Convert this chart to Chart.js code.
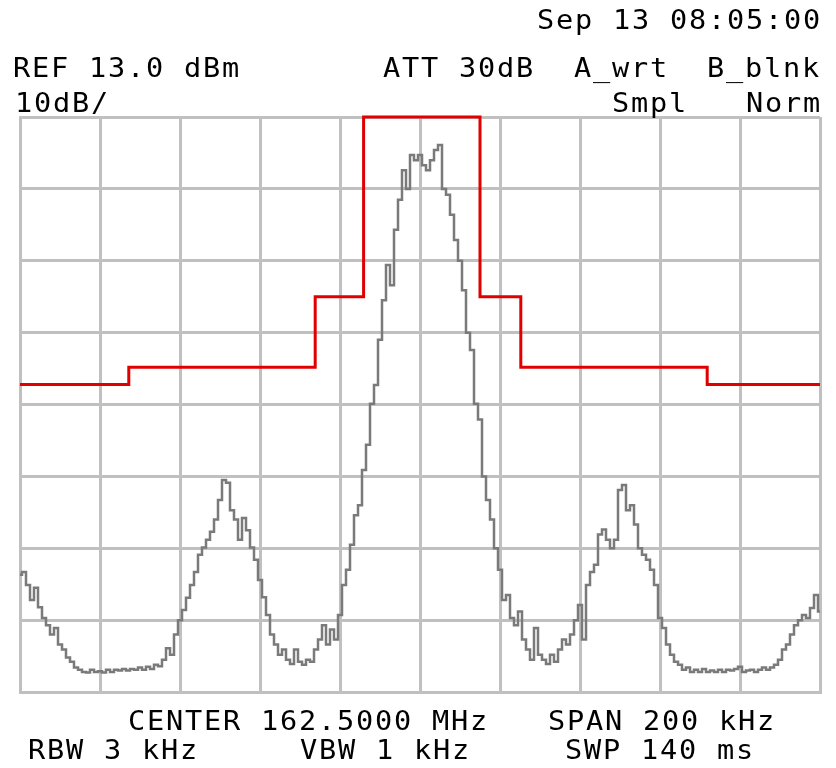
<!DOCTYPE html>
<html>
<head>
<meta charset="utf-8">
<title>Spectrum mask</title>
<script src="https://cdn.jsdelivr.net/npm/chart.js@4.4.1/dist/chart.umd.min.js"></script>
<style>
  html, body { margin: 0; padding: 0; background: #fff; }
  canvas { display: block; }
</style>
</head>
<body>
<canvas id="spectrum" width="836" height="768"></canvas>
<script>
// Sweep: 162.5 MHz centre, 200 kHz span, 1 kHz per point (offsets in kHz)
const sweepStart = -100;
const sweepPoints = 201;
const freqOffsets = Array.from({ length: sweepPoints }, (_, i) => sweepStart + i);

// Trace A, dBm
const traceA = [
  -50.7, -50.3, -52.1, -54.2, -52.5, -55.2, -56.7, -57.7, -59.0, -58.1,
  -60.4, -61.1, -62.2, -62.8, -63.6, -63.9, -64.2, -64.3, -63.9, -64.2,
  -64.1, -64.3, -63.9, -64.2, -63.9, -64.0, -63.8, -64.0, -63.8, -63.9,
  -63.6, -63.9, -63.5, -63.8, -63.2, -63.4, -62.5, -60.9, -61.8, -59.0,
  -57.0, -55.6, -53.9, -52.1, -50.3, -47.9, -46.9, -45.8, -44.7, -43.0,
  -40.3, -37.5, -37.9, -41.7, -43.0, -45.8, -42.8, -44.5, -46.9, -48.6,
  -51.4, -53.8, -56.3, -59.0, -60.4, -61.8, -61.1, -62.5, -63.1, -61.1,
  -62.8, -63.2, -62.5, -62.8, -61.1, -59.7, -57.7, -60.4, -58.3, -59.7,
  -56.3, -52.1, -50.0, -46.5, -42.4, -41.0, -36.1, -32.6, -26.9, -24.3,
  -18.0, -12.5, -7.6, -10.4, -2.7, 1.5, 5.6, 3.0, 7.7, 7.0,
  7.7, 6.3, 5.6, 7.0, 8.4, 9.1, 3.0, 2.2, -0.6, -4.1,
  -7.0, -11.1, -17.0, -19.4, -26.9, -29.1, -37.0, -40.3, -43.0, -47.0,
  -50.0, -54.2, -53.5, -56.7, -57.7, -55.8, -59.7, -61.1, -62.5, -58.1,
  -61.8, -62.5, -63.1, -61.8, -62.8, -61.1, -59.7, -60.4, -59.0, -57.0,
  -54.9, -59.7, -52.1, -50.3, -49.3, -45.1, -44.4, -45.8, -47.0, -45.8,
  -38.9, -38.2, -41.7, -41.0, -43.7, -47.0, -47.9, -48.6, -50.0, -52.1,
  -56.7, -58.1, -60.4, -61.8, -62.8, -63.2, -63.9, -63.6, -64.2, -63.9,
  -64.2, -63.8, -64.2, -64.0, -64.2, -63.9, -64.2, -63.9, -64.0, -63.8,
  -63.5, -64.2, -64.0, -63.9, -64.2, -63.9, -63.6, -63.9, -63.6, -63.2,
  -62.5, -61.1, -60.4, -59.0, -57.7, -57.0, -56.3, -56.7, -55.3, -53.5,
  -55.8
];

// Emission mask: segment edges (kHz) and limit level of each segment (dBm)
const maskEdges = [-100, -72.8, -26.2, -14.1, 15.0, 25.2, 71.8, 100];
const maskLevels = [-24.2, -21.8, -12.0, 13.0, -12.0, -21.8, -24.2];

// Screen settings
const refLevel = 13;
const dbPerDiv = 10;
const yDivs = 8;
const xDivs = 10;

// Annotation text (x = left edge, y = baseline)
const labels = [
  { text: 'Sep 13 08:05:00', x: 537, y: 29 },
  { text: 'REF 13.0 dBm', x: 13, y: 77 },
  { text: 'ATT 30dB', x: 383, y: 77 },
  { text: 'A_wrt', x: 574, y: 77 },
  { text: 'B_blnk', x: 707, y: 77 },
  { text: '10dB/', x: 15, y: 112 },
  { text: 'Smpl', x: 612, y: 112 },
  { text: 'Norm', x: 746, y: 112 },
  { text: 'CENTER 162.5000 MHz', x: 128, y: 730 },
  { text: 'SPAN 200 kHz', x: 548, y: 730 },
  { text: 'RBW 3 kHz', x: 28, y: 759 },
  { text: 'VBW 1 kHz', x: 300, y: 759 },
  { text: 'SWP 140 ms', x: 565, y: 759 }
];

const tracePoints = freqOffsets.map((f, i) => ({ x: f, y: traceA[i] }));
const maskPoints = [];
maskLevels.forEach((lvl, i) => {
  maskPoints.push({ x: maskEdges[i], y: lvl });
  maskPoints.push({ x: maskEdges[i + 1], y: lvl });
});

const bottomLevel = refLevel - dbPerDiv * yDivs;
const span = 200;

// Instrument annotation on a 19 px character pitch
const screenText = {
  id: 'screenText',
  afterDraw(chart) {
    const ctx = chart.ctx;
    ctx.save();
    ctx.font = '26px "DejaVu Sans Mono", "Liberation Mono", monospace';
    ctx.fillStyle = '#000';
    ctx.textBaseline = 'alphabetic';
    const sx = 1.1;
    const adv = ctx.measureText('M').width * sx;
    labels.forEach(l => {
      for (let i = 0; i < l.text.length; i++) {
        ctx.save();
        ctx.translate(l.x + i * 19 + (19 - adv) / 2 - 1, l.y);
        ctx.scale(sx, 1);
        ctx.fillText(l.text[i], 0, 0);
        ctx.restore();
      }
    });
    ctx.restore();
  }
};

const whiteBg = {
  id: 'whiteBg',
  beforeDraw(chart) {
    const ctx = chart.ctx;
    ctx.save();
    ctx.fillStyle = '#fff';
    ctx.fillRect(0, 0, chart.width, chart.height);
    ctx.restore();
  }
};

new Chart(document.getElementById('spectrum'), {
  type: 'line',
  data: {
    datasets: [
      {
        label: 'Mask',
        data: maskPoints,
        borderColor: '#e00000',
        borderWidth: 3,
        pointRadius: 0,
        tension: 0,
        clip: false,
        order: 0
      },
      {
        label: 'Trace A',
        data: tracePoints,
        borderColor: '#7a7a7a',
        borderWidth: 2.5,
        pointRadius: 0,
        stepped: 'middle',
        order: 1
      }
    ]
  },
  options: {
    responsive: false,
    animation: false,
    devicePixelRatio: 1,
    layout: { padding: { top: 117, left: 20, right: 16, bottom: 76 } },
    plugins: {
      legend: { display: false },
      tooltip: { enabled: false }
    },
    scales: {
      x: {
        type: 'linear',
        min: -span / 2,
        max: span / 2,
        ticks: { display: false, stepSize: span / xDivs },
        grid: { color: '#c0c0c0', lineWidth: 3, drawTicks: false },
        border: { color: '#c0c0c0', width: 3 }
      },
      y: {
        min: bottomLevel,
        max: refLevel,
        ticks: { display: false, stepSize: dbPerDiv },
        grid: { color: '#c0c0c0', lineWidth: 3, drawTicks: false },
        border: { color: '#c0c0c0', width: 3 }
      }
    }
  },
  plugins: [whiteBg, screenText]
});
</script>
</body>
</html>
